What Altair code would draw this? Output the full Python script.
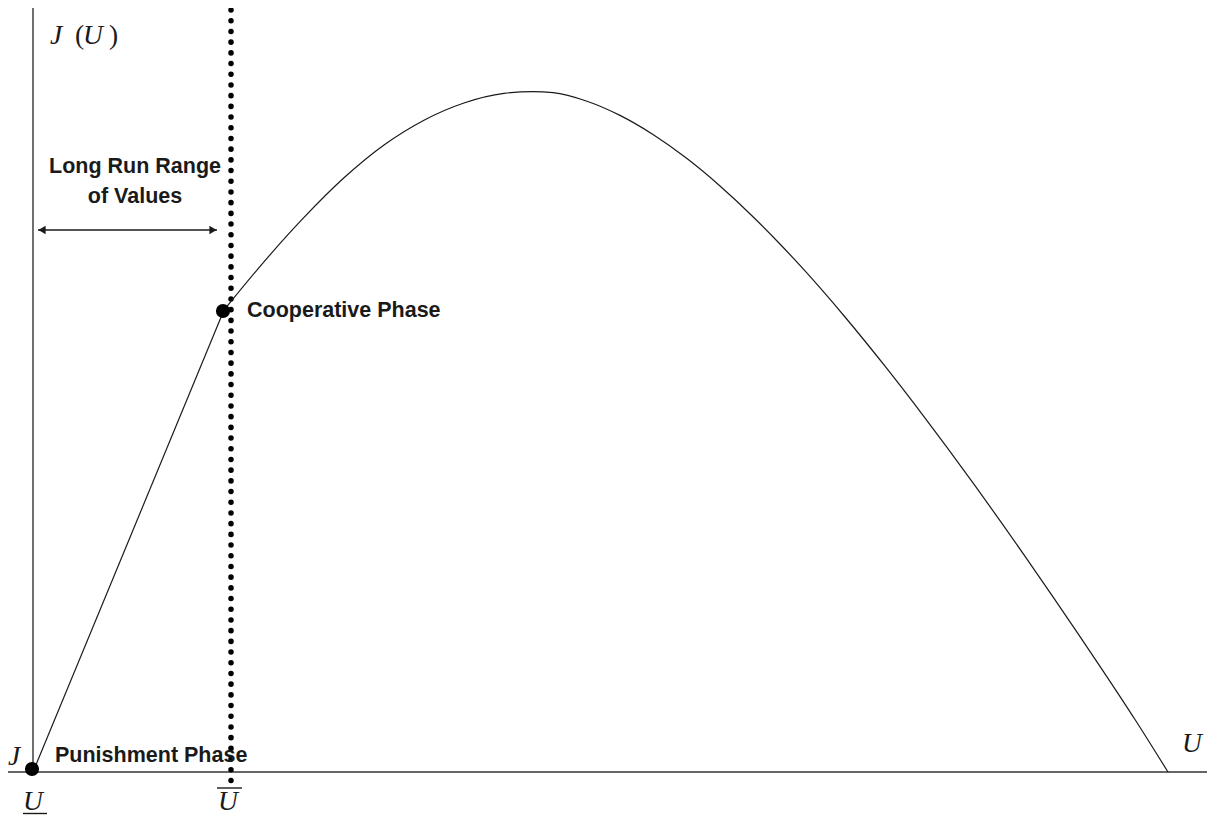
import altair as alt
import pandas as pd

# ---- diagram values (U on horizontal axis, J(U) on vertical axis) ----
seg_U = [0, 191]                      # punishment -> cooperative (straight segment)
seg_J = [0, 462]
curve_U = [191, 237, 271, 311, 351, 391, 431, 471, 500, 520, 554, 587, 620,
           654, 687, 720, 745, 770, 812, 854, 884, 914, 942, 970, 995, 1020,
           1045, 1070, 1102, 1135]
curve_J = [462, 517.2, 554.6, 594.2, 627.0, 651.8, 669.0, 678.6, 680.4, 679.4,
           670.8, 656.6, 637.5, 613.4, 586.0, 555.3, 530.0, 503.3, 455.0, 403.3,
           364.6, 324.7, 286.4, 247.2, 211.4, 175.2, 138.4, 101.2, 52.5, 0]

phase_names = ["Punishment Phase", "Cooperative Phase"]
phase_U = [-1, 190]
phase_J = [3, 461]

U_bar = 198            # upper bound of long-run values (dotted line)
dot_J = [762, -15]
axis_U = [-25, 1174]   # horizontal axis extent
axis_J = [0, 764]      # vertical axis extent
arrow_U = [5, 184]
arrow_J = 542

X_DOM = [-25, 1174]
Y_DOM = [-43, 764]

xs = alt.Scale(domain=X_DOM, nice=False, zero=False)
ys = alt.Scale(domain=Y_DOM, nice=False, zero=False)

def X(f="U"):
    return alt.X(f"{f}:Q", scale=xs, axis=None)

def Y(f="J"):
    return alt.Y(f"{f}:Q", scale=ys, axis=None)

INK = "#1a1a1a"
LINE = "#333333"

# axes lines
axes_df = pd.DataFrame({
    "U": [axis_U[0], 0], "U2": [axis_U[1], 0],
    "J": [0, axis_J[0]], "J2": [0, axis_J[1]],
})
axes = alt.Chart(axes_df).mark_rule(color=LINE, strokeWidth=1.4).encode(
    x=X("U"), x2="U2:Q", y=Y("J"), y2="J2:Q")

# dotted vertical line at U bar
dot_df = pd.DataFrame({"U": [U_bar], "J": [dot_J[0]], "J2": [dot_J[1]]})
dotted = alt.Chart(dot_df).mark_rule(
    color="black", strokeWidth=5.5, strokeDash=[0.1, 10.6], strokeCap="round"
).encode(x=X("U"), y=Y("J"), y2="J2:Q")

# straight segment
seg_df = pd.DataFrame({"U": seg_U, "J": seg_J})
seg = alt.Chart(seg_df).mark_line(color=INK, strokeWidth=1.2).encode(x=X(), y=Y())

# frontier curve
cur_df = pd.DataFrame({"U": curve_U, "J": curve_J})
curve = alt.Chart(cur_df).mark_line(color=INK, strokeWidth=1.2, interpolate="monotone").encode(
    x=X(), y=Y())

# phase points
ph_df = pd.DataFrame({"name": phase_names, "U": phase_U, "J": phase_J})
points = alt.Chart(ph_df).mark_point(filled=True, color="black", opacity=1, size=200, shape="circle").encode(
    x=X(), y=Y())

# double arrow
arr_df = pd.DataFrame({"U": [arrow_U[0]], "U2": [arrow_U[1]], "J": [arrow_J]})
arrow_line = alt.Chart(arr_df).mark_rule(color=INK, strokeWidth=1.3).encode(
    x=X("U"), x2="U2:Q", y=Y("J"))
head_df = pd.DataFrame({"U": [arrow_U[0] + 4, arrow_U[1] - 4], "J": [arrow_J, arrow_J],
                        "shape": ["triangle-left", "triangle-right"]})
heads = alt.Chart(head_df).mark_point(filled=True, color=INK, opacity=1, size=70).encode(
    x=X(), y=Y(), shape=alt.Shape("shape:N", scale=None, legend=None))

SANS = "Liberation Sans"
SERIF = "Liberation Serif"
FS = 21.5

# bold sans labels (left aligned)
lab_left = pd.DataFrame({
    "text": ["Cooperative Phase", "Punishment Phase"],
    "U": [214, 22], "J": [455, 10],
})
t_left = alt.Chart(lab_left).mark_text(
    font=SANS, fontWeight="bold", fontSize=FS, align="left", baseline="alphabetic", color=INK
).encode(x=X(), y=Y(), text="text:N")

# bold sans labels (centered)
lab_c = pd.DataFrame({"text": ["Long Run Range", "of Values"], "U": [102, 102], "J": [599, 569]})
t_center = alt.Chart(lab_c).mark_text(
    font=SANS, fontWeight="bold", fontSize=FS, align="center", baseline="alphabetic", color=INK
).encode(x=X(), y=Y(), text="text:N")

# italic math symbols
lab_it = pd.DataFrame({
    "text": ["J", "U", "J", "U", "U", "U"],
    "U": [17, 50, -25, -10, 185, 1149],
    "J": [728, 728, 7, -38, -38, 20],
})
t_italic = alt.Chart(lab_it).mark_text(
    font=SERIF, fontStyle="italic", fontSize=27.5, align="left", baseline="alphabetic", color=INK
).encode(x=X(), y=Y(), text="text:N")

# upright parentheses
lab_par = pd.DataFrame({"text": ["(", ")"], "U": [42, 76], "J": [728, 728]})
t_par = alt.Chart(lab_par).mark_text(
    font=SERIF, fontSize=27.5, align="left", baseline="alphabetic", color=INK
).encode(x=X(), y=Y(), text="text:N")

# under/over bars for U (lower and upper bound)
bar_df = pd.DataFrame({"U": [-10, 184], "U2": [14, 209], "J": [-41.5, -16]})
bars = alt.Chart(bar_df).mark_rule(color=INK, strokeWidth=1.4).encode(
    x=X("U"), x2="U2:Q", y=Y("J"))

chart = alt.layer(
    axes, dotted, seg, curve, arrow_line, heads, points,
    t_left, t_center, t_italic, t_par, bars
).properties(
    width=1199, height=807, padding=0, background="white",
    autosize=alt.AutoSizeParams(type="none")
).configure_view(stroke=None, clip=False)

chart.save("out.html", embed_options={"renderer": "svg", "actions": False})
